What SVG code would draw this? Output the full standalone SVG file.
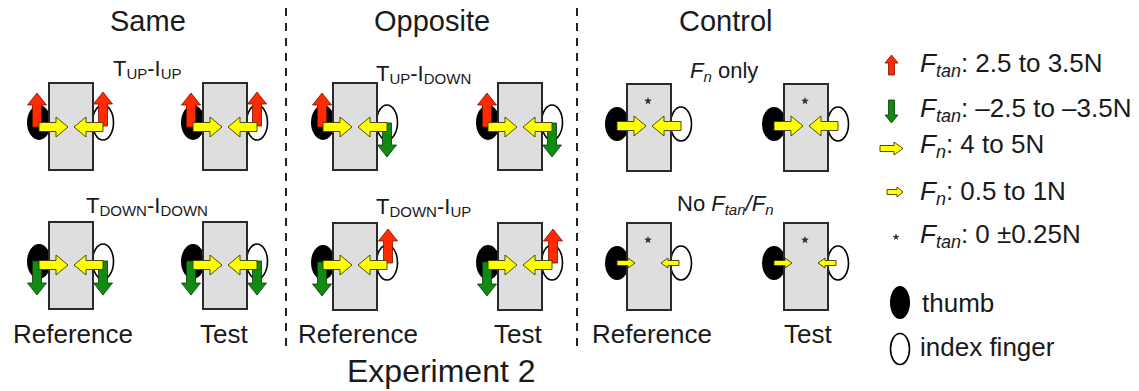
<svg xmlns="http://www.w3.org/2000/svg" xmlns:xlink="http://www.w3.org/1999/xlink" width="1139" height="391" viewBox="0 0 1139 391">
<style>
text{font-family:"Liberation Sans",Arial,sans-serif;fill:#1a1a1a}
.h{font-size:29px}
.lab{font-size:26px}
.sub{font-size:22px}
.leg{font-size:26px}
.it{font-style:italic}
.obj{fill:#dedede;stroke:#2a2a2a;stroke-width:2}
.th{fill:#000}
.ix{fill:#fff;stroke:#000;stroke-width:1.6}
.red{fill:#ff2a00;stroke:#7a1000;stroke-width:0.8}
.grn{fill:#118a11;stroke:#0a3a0a;stroke-width:0.8}
.yel{fill:#ffff00;stroke:#3a3a00;stroke-width:0.9}
.star{fill:#333}
.sep{stroke:#222;stroke-width:2;stroke-dasharray:8 7;fill:none}
</style>
<defs>
<path id="aU" d="M0,0 L9.5,12 L4.5,12 L4.5,34 L-4.5,34 L-4.5,12 L-9.5,12 Z"/>
<path id="aR" d="M0,0 L-12,-10 L-12,-4.5 L-29,-4.5 L-29,4.5 L-12,4.5 L-12,10 Z"/>
<path id="aS" d="M0,0 L-7,-5 L-7,-2.5 L-18,-2.5 L-18,2.5 L-7,2.5 L-7,5 Z"/>
<polygon id="st" points="0,-4 1,-1.38 3.8,-1.24 1.62,0.53 2.35,3.24 0,1.7 -2.35,3.24 -1.62,0.53 -3.8,-1.24 -1,-1.38"/>
</defs>

<!-- headers and separators -->
<text class="h" x="110" y="31">Same</text>
<text class="h" x="374" y="31">Opposite</text>
<text class="h" x="679" y="31">Control</text>
<line class="sep" x1="286" y1="8" x2="286" y2="352"/>
<line class="sep" x1="577" y1="8" x2="577" y2="352"/>

<!-- condition labels -->
<text class="sub" x="113" y="76">T<tspan font-size="15" dy="3">UP</tspan><tspan dy="-3">-I</tspan><tspan font-size="15" dy="3">UP</tspan></text>
<text class="sub" x="86" y="213">T<tspan font-size="15" dy="3">DOWN</tspan><tspan dy="-3">-I</tspan><tspan font-size="15" dy="3">DOWN</tspan></text>
<text class="sub" x="376" y="81">T<tspan font-size="15" dy="3">UP</tspan><tspan dy="-3">-I</tspan><tspan font-size="15" dy="3">DOWN</tspan></text>
<text class="sub" x="376" y="214">T<tspan font-size="15" dy="3">DOWN</tspan><tspan dy="-3">-I</tspan><tspan font-size="15" dy="3">UP</tspan></text>
<text class="sub" x="690" y="78"><tspan class="it">F</tspan><tspan class="it" font-size="15" dy="4">n</tspan><tspan dy="-4"> only</tspan></text>
<text class="sub" x="677" y="211">No <tspan class="it">F</tspan><tspan class="it" font-size="15" dy="4">tan</tspan><tspan class="it" dy="-4">/F</tspan><tspan class="it" font-size="15" dy="4">n</tspan></text>

<!-- Same -->
<g id="same-up-ref" transform="translate(49,83)">
<ellipse class="th" cx="-10" cy="39.5" rx="12" ry="17.5"/><ellipse class="ix" cx="54" cy="39.5" rx="10.5" ry="17.5"/>
<rect class="obj" width="44" height="87"/>
<use href="#aU" class="red" transform="translate(-12,10)"/><use href="#aU" class="red" transform="translate(54,9)"/>
<use href="#aR" class="yel" transform="translate(19,44)"/><use href="#aR" class="yel" transform="translate(25,44) scale(-1,1)"/>
</g>
<g id="same-up-test" transform="translate(203,83)">
<ellipse class="th" cx="-10" cy="39.5" rx="12" ry="17.5"/><ellipse class="ix" cx="54" cy="39.5" rx="10.5" ry="17.5"/>
<rect class="obj" width="44" height="87"/>
<use href="#aU" class="red" transform="translate(-12,10)"/><use href="#aU" class="red" transform="translate(54,9)"/>
<use href="#aR" class="yel" transform="translate(19,44)"/><use href="#aR" class="yel" transform="translate(25,44) scale(-1,1)"/>
</g>
<g id="same-down-ref" transform="translate(49,222)">
<ellipse class="th" cx="-10" cy="39.5" rx="12" ry="17.5"/><ellipse class="ix" cx="54" cy="39.5" rx="10.5" ry="17.5"/>
<rect class="obj" width="44" height="87"/>
<use href="#aU" class="grn" transform="translate(-12,73) rotate(180)"/><use href="#aU" class="grn" transform="translate(54,73) rotate(180)"/>
<use href="#aR" class="yel" transform="translate(19,43)"/><use href="#aR" class="yel" transform="translate(25,43) scale(-1,1)"/>
</g>
<g id="same-down-test" transform="translate(203,222)">
<ellipse class="th" cx="-10" cy="39.5" rx="12" ry="17.5"/><ellipse class="ix" cx="54" cy="39.5" rx="10.5" ry="17.5"/>
<rect class="obj" width="44" height="87"/>
<use href="#aU" class="grn" transform="translate(-12,73) rotate(180)"/><use href="#aU" class="grn" transform="translate(54,73) rotate(180)"/>
<use href="#aR" class="yel" transform="translate(19,43)"/><use href="#aR" class="yel" transform="translate(25,43) scale(-1,1)"/>
</g>

<!-- Opposite -->
<g id="opp-up-ref" transform="translate(333,83)">
<ellipse class="th" cx="-10" cy="39.5" rx="12" ry="17.5"/><ellipse class="ix" cx="54" cy="39.5" rx="10.5" ry="17.5"/>
<rect class="obj" width="44" height="87"/>
<use href="#aU" class="red" transform="translate(-11,10)"/><use href="#aU" class="grn" transform="translate(54,74) rotate(180)"/>
<use href="#aR" class="yel" transform="translate(19,44)"/><use href="#aR" class="yel" transform="translate(25,44) scale(-1,1)"/>
</g>
<g id="opp-up-test" transform="translate(498,83)">
<ellipse class="th" cx="-10" cy="39.5" rx="12" ry="17.5"/><ellipse class="ix" cx="54" cy="39.5" rx="10.5" ry="17.5"/>
<rect class="obj" width="44" height="87"/>
<use href="#aU" class="red" transform="translate(-11,10)"/><use href="#aU" class="grn" transform="translate(54,74) rotate(180)"/>
<use href="#aR" class="yel" transform="translate(19,44)"/><use href="#aR" class="yel" transform="translate(25,44) scale(-1,1)"/>
</g>
<g id="opp-down-ref" transform="translate(333,223)">
<ellipse class="th" cx="-10" cy="39.5" rx="12" ry="17.5"/><ellipse class="ix" cx="54" cy="39.5" rx="10.5" ry="17.5"/>
<rect class="obj" width="44" height="87"/>
<use href="#aU" class="grn" transform="translate(-11,73) rotate(180)"/><use href="#aU" class="red" transform="translate(55,6)"/>
<use href="#aR" class="yel" transform="translate(19,42)"/><use href="#aR" class="yel" transform="translate(25,42) scale(-1,1)"/>
</g>
<g id="opp-down-test" transform="translate(498,223)">
<ellipse class="th" cx="-10" cy="39.5" rx="12" ry="17.5"/><ellipse class="ix" cx="54" cy="39.5" rx="10.5" ry="17.5"/>
<rect class="obj" width="44" height="87"/>
<use href="#aU" class="grn" transform="translate(-11,73) rotate(180)"/><use href="#aU" class="red" transform="translate(55,6)"/>
<use href="#aR" class="yel" transform="translate(19,42)"/><use href="#aR" class="yel" transform="translate(25,42) scale(-1,1)"/>
</g>

<!-- Control -->
<g id="ctl-fn-ref" transform="translate(627,84)">
<ellipse class="th" cx="-10" cy="40" rx="12" ry="17"/><ellipse class="ix" cx="54" cy="40" rx="10.5" ry="17"/>
<rect class="obj" width="44" height="87"/>
<use href="#st" class="star" transform="translate(21,17)"/>
<use href="#aR" class="yel" transform="translate(19,42)"/><use href="#aR" class="yel" transform="translate(25,42) scale(-1,1)"/>
</g>
<g id="ctl-fn-test" transform="translate(784,84)">
<ellipse class="th" cx="-10" cy="40" rx="12" ry="17"/><ellipse class="ix" cx="54" cy="40" rx="10.5" ry="17"/>
<rect class="obj" width="44" height="87"/>
<use href="#st" class="star" transform="translate(21,17)"/>
<use href="#aR" class="yel" transform="translate(19,42)"/><use href="#aR" class="yel" transform="translate(25,42) scale(-1,1)"/>
</g>
<g id="ctl-none-ref" transform="translate(627,223)">
<ellipse class="th" cx="-10" cy="40" rx="12" ry="17"/><ellipse class="ix" cx="54" cy="40" rx="10.5" ry="17"/>
<rect class="obj" width="44" height="87"/>
<use href="#st" class="star" transform="translate(21,17)"/>
<use href="#aS" class="yel" transform="translate(8,40)"/><use href="#aS" class="yel" transform="translate(34,40) scale(-1,1)"/>
</g>
<g id="ctl-none-test" transform="translate(784,223)">
<ellipse class="th" cx="-10" cy="40" rx="12" ry="17"/><ellipse class="ix" cx="54" cy="40" rx="10.5" ry="17"/>
<rect class="obj" width="44" height="87"/>
<use href="#st" class="star" transform="translate(21,17)"/>
<use href="#aS" class="yel" transform="translate(8,40)"/><use href="#aS" class="yel" transform="translate(34,40) scale(-1,1)"/>
</g>

<!-- bottom labels -->
<text class="lab" x="13" y="343">Reference</text>
<text class="lab" x="200" y="343">Test</text>
<text class="lab" x="298" y="343">Reference</text>
<text class="lab" x="494" y="343">Test</text>
<text class="lab" x="592" y="343">Reference</text>
<text class="lab" x="784" y="343">Test</text>
<text x="347" y="382" font-size="32">Experiment 2</text>

<!-- legend -->
<g id="legend">
<path class="red" d="M891.5,55 L898,63 L894.5,63 L894.5,75 L888.5,75 L888.5,63 L885,63 Z"/>
<text class="leg" x="920" y="72"><tspan class="it">F</tspan><tspan class="it" font-size="18" dy="5">tan</tspan><tspan dy="-5">: 2.5 to 3.5N</tspan></text>
<path class="grn" d="M891.5,123 L898,115 L894.5,115 L894.5,100 L888.5,100 L888.5,115 L885,115 Z"/>
<text class="leg" x="920" y="117"><tspan class="it">F</tspan><tspan class="it" font-size="18" dy="5">tan</tspan><tspan dy="-5">: –2.5 to –3.5N</tspan></text>
<path class="yel" d="M903,148.5 L894,142 L894,145.5 L880,145.5 L880,151.5 L894,151.5 L894,155 Z"/>
<text class="leg" x="920" y="153"><tspan class="it">F</tspan><tspan class="it" font-size="18" dy="5">n</tspan><tspan dy="-5">: 4 to 5N</tspan></text>
<path class="yel" d="M903,192 L897,187 L897,189.5 L887,189.5 L887,194.5 L897,194.5 L897,197 Z"/>
<text class="leg" x="920" y="200"><tspan class="it">F</tspan><tspan class="it" font-size="18" dy="5">n</tspan><tspan dy="-5">: 0.5 to 1N</tspan></text>
<use href="#st" class="star" transform="translate(896,237) scale(0.9)"/>
<text class="leg" x="920" y="243"><tspan class="it">F</tspan><tspan class="it" font-size="18" dy="5">tan</tspan><tspan dy="-5">: 0 ±0.25N</tspan></text>
<ellipse class="th" cx="900" cy="302.5" rx="10" ry="16.5"/>
<text class="leg" x="922" y="312">thumb</text>
<ellipse class="ix" cx="900" cy="349" rx="9.5" ry="15.5"/>
<text class="leg" x="920" y="356">index finger</text>
</g>
</svg>
